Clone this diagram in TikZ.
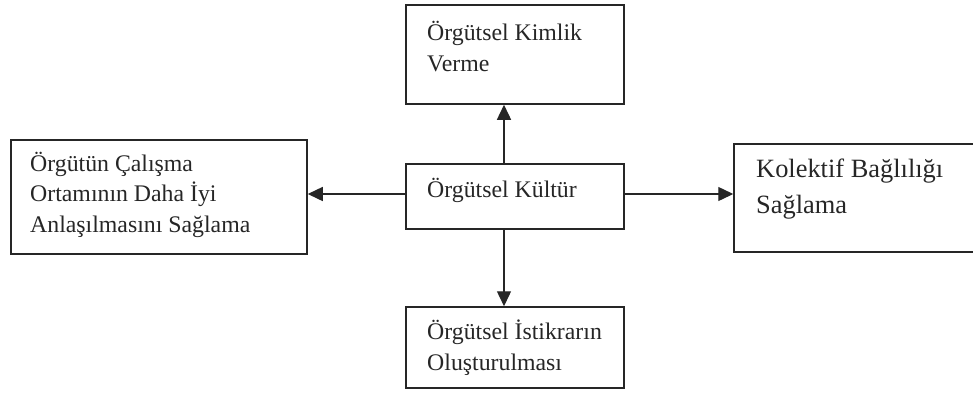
\documentclass[tikz,border=0pt]{standalone}
\usepackage{fontspec}
\setmainfont{Liberation Serif}
\usetikzlibrary{arrows.meta}
\begin{document}
\begin{tikzpicture}[x=1pt,y=-1pt,
        box/.style={draw=black!85,line width=1.5pt,minimum width=218pt,inner sep=0pt},
        lbl/.style={inner sep=0pt,align=left,text=black!85,font=\fontsize{23.8}{30.5}\selectfont},
        arr/.style={draw=black!85,line width=1.4pt,-{Triangle[length=15pt,width=14pt]}}]
        \useasboundingbox (0,0) rectangle (973,392);
        \node[box,minimum height=99pt] (kimlik) at (515,54.5) {};
        \node[lbl,anchor=base west] (kimliktxt) at (427,71) {Örgütsel Kimlik\\Verme};

        \node[box,minimum height=65pt] (kultur) at (515,196.5) {};
        \node[lbl,anchor=base west] (kulturtxt) at (427,197) {Örgütsel Kültür};

        \node[box,minimum width=296pt,minimum height=114pt] (ortam) at (159,197) {};
        \node[lbl,anchor=base west] (ortamtxt) at (30,232) {Örgütün Çalışma\\Ortamının Daha İyi\\Anlaşılmasını Sağlama};

        \node[box,minimum width=256pt,minimum height=108pt] (bag) at (862,198) {};
        \node[lbl,anchor=base west,font=\fontsize{26.4}{36}\selectfont] (bagtxt) at (756,213) {Kolektif Bağlılığı\\Sağlama};

        \node[box,minimum height=81pt] (istikrar) at (515,347.5) {};
        \node[lbl,anchor=base west] (istikrartxt) at (427,370) {Örgütsel İstikrarın\\Oluşturulması};

        \draw[arr] ([xshift=-11pt]kultur.north) -- ([xshift=-11pt]kimlik.south);
        \draw[arr] ([xshift=-11pt]kultur.south) -- ([xshift=-11pt]istikrar.north);
        \draw[arr] ([yshift=2.5pt]kultur.west) -- ([yshift=2.5pt]kultur.west -| ortam.east);
        \draw[arr] ([yshift=2.5pt]kultur.east) -- ([yshift=2.5pt]kultur.east -| bag.west);
\end{tikzpicture}
\end{document}
